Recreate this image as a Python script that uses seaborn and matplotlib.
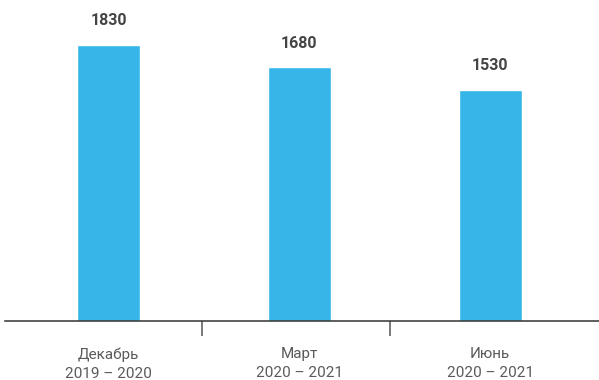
import matplotlib
matplotlib.use("Agg")
import matplotlib.pyplot as plt
import seaborn as sns
import pandas as pd

categories = ["Декабрь\n2019 – 2020", "Март\n2020 – 2021", "Июнь\n2020 – 2021"]
values = [1830, 1680, 1530]

df = pd.DataFrame({"period": categories, "value": values})

sns.set_style("white")
plt.rcParams["font.family"] = ["Roboto", "DejaVu Sans"]

fig = plt.figure(figsize=(5.99, 3.8), dpi=100)
ax = fig.add_axes([5 / 599, 1 - 321 / 380, 594 / 599, 321 / 380])

sns.barplot(data=df, x="period", y="value", color="#35B5E8", saturation=1,
            width=0.33, ax=ax)

ax.set_xlim(-0.543, 2.571)
ax.set_ylim(0, 2126)

for i, v in enumerate(values):
    ax.annotate(f"{v}", (i, v), xytext=(0, 12), textcoords="offset points",
                ha="center", va="bottom", fontsize=11.5, fontweight="bold",
                color="#444444")

for side in ["top", "right", "left"]:
    ax.spines[side].set_visible(False)
ax.spines["bottom"].set_color("#333333")
ax.spines["bottom"].set_linewidth(1.1)

ax.set_yticks([])
ax.set_xlabel("")
ax.set_ylabel("")
ax.set_xticks(range(len(categories)))
ax.set_xticklabels(categories, fontsize=11, color="#5a5a5a", linespacing=1.45)
ax.tick_params(axis="x", which="major", bottom=True, length=0, pad=19)
ax.set_xticks([0.49, 1.475], minor=True)
ax.tick_params(axis="x", which="minor", bottom=True, length=11, width=1.1,
               color="#555555", direction="out")

fig.savefig("out.png", dpi=100)
